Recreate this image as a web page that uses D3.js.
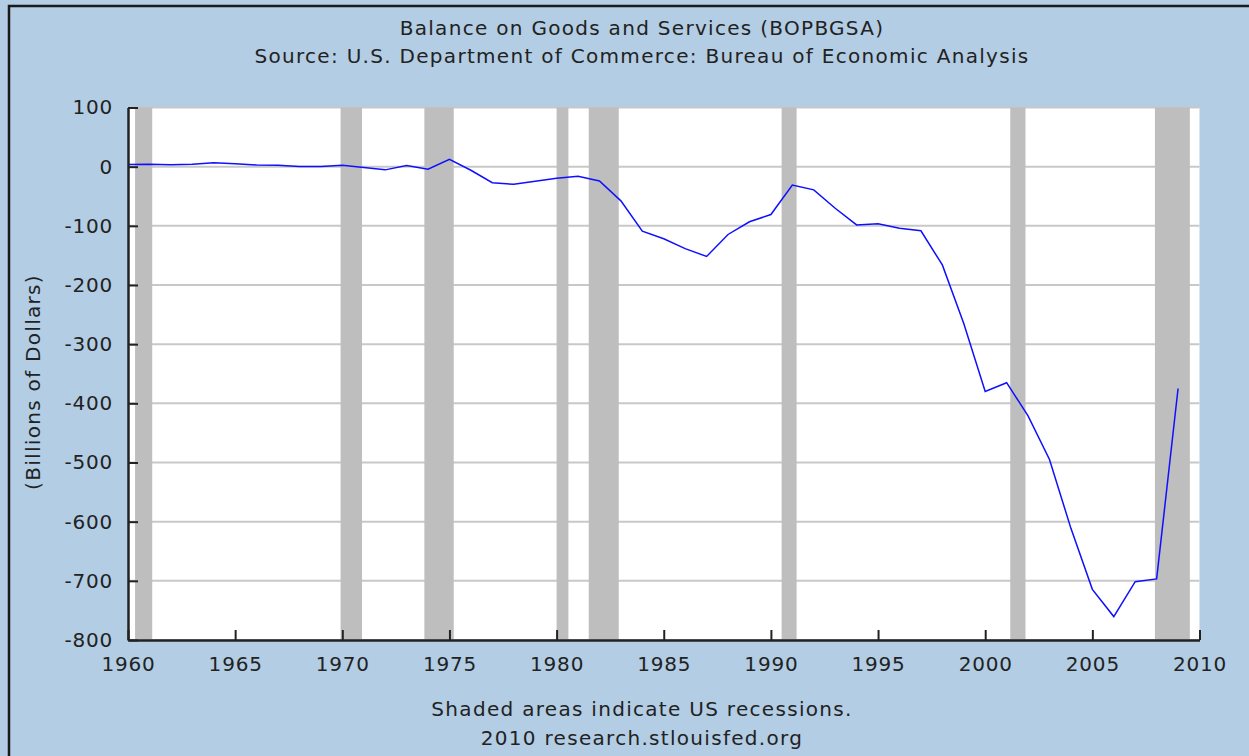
<!DOCTYPE html>
<html>
<head>
<meta charset="utf-8">
<script src="https://cdn.jsdelivr.net/npm/d3@7"></script>
<style>
  body { margin: 0; background: #fff; }
  text { font-family: "DejaVu Sans", Verdana, sans-serif; fill: #222; }
</style>
</head>
<body>
<div id="chart-area"></div>
<script>
// annual balance on goods and services, billions of dollars
const years = d3.range(1960, 2010);
const balance = [3.5, 4.2, 3.4, 4.2, 6.8, 4.9, 2.9, 2.6, 0.3, 0.1,
    2.3, -1.3, -5.4, 1.9, -4.3, 12.4, -6.1, -27.2, -29.8, -24.6,
    -19.4, -16.2, -24.2, -57.8, -109.1, -121.9, -138.5, -151.7, -114.6, -93.1,
    -80.9, -31.1, -39.2, -70.3, -98.5, -96.4, -104.1, -108.3, -166.1, -265.1,
    -379.8, -365.1, -421.2, -494.8, -611.3, -714.4, -760.4, -701.4, -696.7, -374.9];

// recession periods (decimal years)
const recStart = [1960.33, 1969.92, 1973.83, 1980.0, 1981.5, 1990.5, 2001.17, 2007.92];
const recEnd = [1961.13, 1970.92, 1975.2, 1980.55, 1982.9, 1991.2, 2001.88, 2009.55];

const yTicks = [100, 0, -100, -200, -300, -400, -500, -600, -700, -800];
const xTicks = [1960, 1965, 1970, 1975, 1980, 1985, 1990, 1995, 2000, 2005, 2010];

const W = 1249, H = 756;
const plotL = 128, plotR = 1199.5, plotT = 107.5, plotB = 640;

let svg = d3.select("#chart-area").append("svg")
    .attr("width", W)
    .attr("height", H);

// background + frame
svg.append("rect")
    .attr("width", W).attr("height", H)
    .attr("fill", "#b3cde4");
svg.append("path")
    .attr("d", "M9," + H + "V6H" + W)
    .attr("fill", "none")
    .attr("stroke", "#1a1a1a")
    .attr("stroke-width", 2.5);

const x = d3.scaleLinear().domain([1960, 2010]).range([plotL, plotR]);
const y = d3.scaleLinear().domain([-800, 100]).range([plotB, plotT]);

svg.append("rect")
    .attr("x", plotL).attr("y", plotT)
    .attr("width", plotR - plotL).attr("height", plotB - plotT)
    .attr("fill", "#fff");

// grid
svg.selectAll(".grid")
    .data(yTicks)
    .enter()
    .append("line")
    .attr("x1", plotL).attr("x2", plotR)
    .attr("y1", d => y(d)).attr("y2", d => y(d))
    .attr("stroke", "#c8c8c8")
    .attr("stroke-width", 2);

// recessions
svg.selectAll(".rec")
    .data(recStart)
    .enter()
    .append("rect")
    .attr("x", d => x(d))
    .attr("y", plotT)
    .attr("width", (d, i) => x(recEnd[i]) - x(d))
    .attr("height", plotB - plotT)
    .attr("fill", "#bebebe");

// series
const line = d3.line()
    .x((d, i) => x(years[i]))
    .y(d => y(d));

svg.append("path")
    .datum(balance)
    .attr("d", line)
    .attr("fill", "none")
    .attr("stroke", "#0f0fff")
    .attr("stroke-width", 1.5);

// axes
const yAxis = d3.axisLeft(y)
    .tickValues(yTicks)
    .tickFormat(d => String(d))
    .tickSizeInner(-10)
    .tickSizeOuter(0)
    .tickPadding(15);
const gy = svg.append("g")
    .attr("transform", "translate(" + plotL + ",0)")
    .call(yAxis);

const xAxis = d3.axisBottom(x)
    .tickValues(xTicks)
    .tickFormat(d3.format("d"))
    .tickSizeInner(-10)
    .tickSizeOuter(0)
    .tickPadding(17);
const gx = svg.append("g")
    .attr("transform", "translate(0," + plotB + ")")
    .call(xAxis);

[gx, gy].forEach(g => {
    g.select(".domain").attr("stroke", "#222").attr("stroke-width", 2.5);
    g.selectAll(".tick line").attr("stroke", "#222").attr("stroke-width", 2);
    g.selectAll(".tick text")
        .attr("font-family", "DejaVu Sans, sans-serif")
        .attr("font-size", 20)
        .attr("letter-spacing", 0.8)
        .attr("fill", "#222");
});

// titles
const cx = 642;
function label(txt, yy) {
    return svg.append("text")
        .attr("x", cx).attr("y", yy)
        .attr("text-anchor", "middle")
        .attr("font-size", 20)
        .attr("letter-spacing", 1.3)
        .text(txt);
}
label("Balance on Goods and Services (BOPBGSA)", 35);
label("Source: U.S. Department of Commerce: Bureau of Economic Analysis", 63);
label("Shaded areas indicate US recessions.", 716);
label("2010 research.stlouisfed.org", 745);

svg.append("text")
    .attr("transform", "translate(40,382) rotate(-90)")
    .attr("text-anchor", "middle")
    .attr("font-size", 20)
    .attr("letter-spacing", 1.3)
    .text("(Billions of Dollars)");
</script>
</body>
</html>
